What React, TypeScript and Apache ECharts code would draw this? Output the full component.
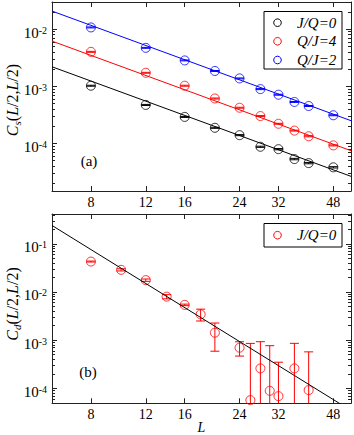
import React, { useEffect, useRef } from "react";
import * as echarts from "echarts";

// ---------- data ----------
const L_TOP = [8, 12, 16, 20, 24, 28, 32, 36, 40, 48];
const CS_JQ0 = [1.02e-3, 4.7e-4, 2.9e-4, 1.87e-4, 1.39e-4, 8.7e-5, 7.9e-5, 5.3e-5, 4.5e-5, 3.8e-5];
const CS_QJ4 = [4.0e-3, 1.72e-3, 1.02e-3, 6.1e-4, 4.2e-4, 3.0e-4, 2.2e-4, 1.67e-4, 1.33e-4, 9.2e-5];
const CS_QJ2 = [1.07e-2, 4.7e-3, 2.83e-3, 1.85e-3, 1.37e-3, 8.9e-4, 7.1e-4, 5.3e-4, 4.5e-4, 3.1e-4];
const ERR_JQ0 = [2e-5, 1e-5, 6e-6, 4e-6, 3e-6, 2e-6, 2e-6, 1.5e-6, 1.2e-6, 1e-6];
const ERR_QJ4 = [8e-5, 3e-5, 2e-5, 1.2e-5, 8e-6, 6e-6, 4e-6, 3e-6, 3e-6, 2e-6];
const ERR_QJ2 = [2e-4, 9e-5, 5e-5, 3.5e-5, 2.5e-5, 1.8e-5, 1.4e-5, 1e-5, 9e-6, 6e-6];

const L_BOT = [8, 10, 12, 14, 16, 18, 20, 24, 26, 28, 30, 32, 36, 40];
const CD_JQ0 = [0.0428, 0.0288, 0.0176, 0.008, 0.0054, 0.00345, 0.00143, 6.98e-4, 5.7e-5, 2.6e-4, 8.9e-5, 6.9e-5, 2.6e-4, 9.2e-5];
const ERR_CD = [0.001, 0.0015, 0.001, 0.0008, 0.0002, 0.00095, 0.00084, 0.00023, 0.0008, 0.00067, 0.00068, 0.00028, 0.0006, 0.00048];

const FIT_L = [6, 54.7];
const FIT_CS_JQ0 = [2.19e-3, 2.64e-5];
const FIT_CS_QJ4 = [6.17e-3, 7.42e-5];
const FIT_CS_QJ2 = [2.07e-2, 2.49e-4];
const FIT_CD = [0.24, 3.47e-5];

const X_TICKS = [8, 12, 16, 24, 32, 48];
const Y_TICKS_TOP = [1e-4, 1e-3, 1e-2];
const Y_TICKS_BOT = [1e-4, 1e-3, 1e-2, 1e-1];
const X_RANGE = [6, 54.7];
const Y_RANGE_TOP = [1.462e-5, 2.985e-2];
const Y_RANGE_BOT = [4.9e-5, 0.415];

const LEGEND_TOP = ["J/Q=0", "Q/J=4", "Q/J=2"];
const LEGEND_BOT = ["J/Q=0"];
const COLORS_TOP = ["#000000", "#ff0000", "#0000ff"];
const COLOR_BOT = "#ff0000";

// ---------- helpers ----------
const lg = (v: number) => Math.log10(v);
const FONT = "Liberation Serif";
const AXIS_COLOR = "#222";

function minorTicks(range: number[]) {
  const lo = lg(range[0]);
  const hi = lg(range[1]);
  const out: number[] = [];
  for (let n = Math.floor(lo); n <= Math.ceil(hi); n++) {
    for (let k = 2; k <= 9; k++) {
      const v = n + Math.log10(k);
      if (v > lo && v < hi) out.push(v);
    }
  }
  return out;
}

function xAxes(grid: number, withLabel: boolean) {
  const ticks = X_TICKS.map(lg);
  const base: any = {
    type: "value",
    gridIndex: grid,
    min: lg(X_RANGE[0]),
    max: lg(X_RANGE[1]),
    splitLine: { show: false },
    axisLine: { show: true, onZero: false, lineStyle: { color: AXIS_COLOR, width: 1 } },
    axisTick: { show: true, inside: true, length: 5, customValues: ticks, lineStyle: { color: AXIS_COLOR } },
  };
  return [
    {
      ...base,
      position: "bottom",
      axisLabel: {
        show: withLabel,
        customValues: ticks,
        formatter: (v: number) => String(Math.round(Math.pow(10, v))),
        fontFamily: FONT,
        fontSize: 14,
        color: "#000",
        margin: 4,
      },
    },
    { ...base, position: "top", axisLabel: { show: false } },
  ];
}

function yAxes(grid: number, range: number[], majors: number[]) {
  const ticks = majors.map(lg);
  const minors = minorTicks(range);
  const base: any = {
    type: "value",
    gridIndex: grid,
    min: lg(range[0]),
    max: lg(range[1]),
    splitLine: { show: false },
    axisLine: { show: true, onZero: false, lineStyle: { color: AXIS_COLOR, width: 1 } },
  };
  const majorTick = { show: true, inside: true, length: 5, customValues: ticks, lineStyle: { color: AXIS_COLOR } };
  const minorTick = { show: true, inside: true, length: 3, customValues: minors, lineStyle: { color: AXIS_COLOR } };
  return [
    {
      ...base,
      position: "left",
      axisTick: majorTick,
      axisLabel: {
        show: true,
        customValues: ticks,
        margin: 5,
        padding: [7, 0, 0, 0],
        formatter: (v: number) => `{b|10}{s|${Math.round(v)}}`,
        rich: {
          b: { fontFamily: FONT, fontSize: 15, lineHeight: 15, color: "#000", verticalAlign: "bottom" },
          s: { fontFamily: FONT, fontSize: 10, lineHeight: 10, color: "#000", verticalAlign: "top", padding: [0, 0, 10, 0] },
        },
      },
    },
    { ...base, position: "right", axisTick: majorTick, axisLabel: { show: false } },
    { ...base, position: "left", axisLine: { show: false }, axisTick: minorTick, axisLabel: { show: false } },
    { ...base, position: "right", axisLine: { show: false }, axisTick: minorTick, axisLabel: { show: false } },
  ];
}

function errorSeries(xi: number, yi: number, L: number[], vals: number[], errs: number[], color: string) {
  return {
    type: "custom",
    xAxisIndex: xi,
    yAxisIndex: yi,
    silent: true,
    data: L.map((l, i) => [lg(l), lg(vals[i]), vals[i], errs[i]]),
    renderItem: (params: any, api: any) => {
      const x = api.value(0);
      const v = api.value(2);
      const e = api.value(3);
      const cs = params.coordSys;
      const yTop = cs.y;
      const yBot = cs.y + cs.height;
      const pHi = api.coord([x, lg(v + e)]);
      const px = pHi[0];
      let hiY = pHi[1];
      let capHi = true;
      if (hiY < yTop) { hiY = yTop; capHi = false; }
      const lo = v - e;
      let loY = yBot;
      let capLo = false;
      if (lo > 0) {
        loY = api.coord([x, lg(lo)])[1];
        capLo = true;
        if (loY > yBot) { loY = yBot; capLo = false; }
      }
      const style = { stroke: color, lineWidth: 1, fill: "none" };
      const w = 4.5;
      const children: any[] = [
        { type: "line", shape: { x1: px, y1: hiY, x2: px, y2: loY }, style },
      ];
      if (capHi) children.push({ type: "line", shape: { x1: px - w, y1: hiY, x2: px + w, y2: hiY }, style });
      if (capLo) children.push({ type: "line", shape: { x1: px - w, y1: loY, x2: px + w, y2: loY }, style });
      return { type: "group", children };
    },
  };
}

function scatterSeries(name: string, xi: number, yi: number, L: number[], vals: number[], color: string) {
  return {
    name,
    type: "scatter",
    xAxisIndex: xi,
    yAxisIndex: yi,
    symbol: "circle",
    symbolSize: 9,
    silent: true,
    itemStyle: { color: "transparent", borderColor: color, borderWidth: 1 },
    data: L.map((l, i) => [lg(l), lg(vals[i])]),
  };
}

function fitSeries(xi: number, yi: number, vals: number[], color: string) {
  return {
    type: "line",
    xAxisIndex: xi,
    yAxisIndex: yi,
    showSymbol: false,
    symbol: "none",
    silent: true,
    clip: true,
    lineStyle: { color, width: 1 },
    data: FIT_L.map((l, i) => [lg(l), lg(vals[i])]),
  };
}

function legendGraphic(names: string[], colors: string[], x: number, y: number, h: number, rowY: number[]) {
  const children: any[] = [
    { type: "rect", shape: { x, y, width: 78, height: h }, style: { fill: "#fff", stroke: "#000", lineWidth: 1 } },
  ];
  names.forEach((n, i) => {
    children.push({ type: "circle", shape: { cx: x + 13.5, cy: rowY[i], r: 3.8 }, style: { fill: "none", stroke: colors[i], lineWidth: 1 } });
    children.push({
      type: "text",
      x: x + 33,
      y: rowY[i],
      style: { text: n, fontFamily: FONT, fontStyle: "italic", fontSize: 15, fill: "#000", verticalAlign: "middle", align: "left" },
    });
  });
  return { type: "group", children, z: 100 };
}

function titleGraphic(sub: string, cx: number, cy: number) {
  return {
    type: "text",
    x: cx,
    y: cy,
    rotation: Math.PI / 2,
    z: 100,
    style: {
      text: `{c|C}{s|${sub}}{n|(}{c|L}{n|/2,}{c|L}{n|/2)}`,
      align: "center",
      verticalAlign: "middle",
      rich: {
        c: { fontFamily: FONT, fontStyle: "italic", fontSize: 16, lineHeight: 16, fill: "#000", verticalAlign: "top" },
        n: { fontFamily: FONT, fontSize: 16, lineHeight: 16, fill: "#000", verticalAlign: "top" },
        s: { fontFamily: FONT, fontStyle: "italic", fontSize: 11, lineHeight: 11, fill: "#000", verticalAlign: "top", padding: [7, 0, 0, 0] },
      },
    },
  };
}

export default function App() {
  const ref = useRef<HTMLDivElement>(null);
  useEffect(() => {
    if (!ref.current) return;
    const chart = echarts.init(ref.current, undefined, { renderer: "svg" });
    const option: any = {
      animation: false,
      backgroundColor: "#fff",
      grid: [
        { left: 52, top: 2, width: 299, height: 189, containLabel: false },
        { left: 52, top: 214, width: 299, height: 189.3, containLabel: false },
      ],
      xAxis: [...xAxes(0, true), ...xAxes(1, true)],
      yAxis: [...yAxes(0, Y_RANGE_TOP, Y_TICKS_TOP), ...yAxes(1, Y_RANGE_BOT, Y_TICKS_BOT)],
      series: [
        fitSeries(0, 0, FIT_CS_JQ0, COLORS_TOP[0]),
        fitSeries(0, 0, FIT_CS_QJ4, COLORS_TOP[1]),
        fitSeries(0, 0, FIT_CS_QJ2, COLORS_TOP[2]),
        errorSeries(0, 0, L_TOP, CS_JQ0, ERR_JQ0, COLORS_TOP[0]),
        errorSeries(0, 0, L_TOP, CS_QJ4, ERR_QJ4, COLORS_TOP[1]),
        errorSeries(0, 0, L_TOP, CS_QJ2, ERR_QJ2, COLORS_TOP[2]),
        scatterSeries(LEGEND_TOP[0], 0, 0, L_TOP, CS_JQ0, COLORS_TOP[0]),
        scatterSeries(LEGEND_TOP[1], 0, 0, L_TOP, CS_QJ4, COLORS_TOP[1]),
        scatterSeries(LEGEND_TOP[2], 0, 0, L_TOP, CS_QJ2, COLORS_TOP[2]),
        fitSeries(2, 4, FIT_CD, "#000000"),
        errorSeries(2, 4, L_BOT, CD_JQ0, ERR_CD, COLOR_BOT),
        scatterSeries(LEGEND_BOT[0], 2, 4, L_BOT, CD_JQ0, COLOR_BOT),
      ],
      graphic: [
        legendGraphic(LEGEND_TOP, COLORS_TOP, 264, 11.5, 57.5, [22.7, 41.3, 60]),
        legendGraphic(LEGEND_BOT, [COLOR_BOT], 264, 223.5, 23.5, [235.2]),
        titleGraphic("s", 12, 100),
        titleGraphic("d", 12, 304),
        { type: "text", x: 89, y: 161, z: 100, style: { text: "(a)", fontFamily: FONT, fontSize: 15, fill: "#000", align: "center", verticalAlign: "middle" } },
        { type: "text", x: 88, y: 372, z: 100, style: { text: "(b)", fontFamily: FONT, fontSize: 15, fill: "#000", align: "center", verticalAlign: "middle" } },
        { type: "text", x: 201.5, y: 434, z: 100, style: { text: "L", fontFamily: FONT, fontStyle: "italic", fontSize: 14, lineHeight: 13, fill: "#000", align: "center", verticalAlign: "bottom" } },
      ],
    };
    chart.setOption(option);
    return () => chart.dispose();
  }, []);
  return (
    <div
      ref={ref}
      style={{ position: "fixed", left: 0, top: 0, width: 354, height: 435, background: "#fff" }}
    />
  );
}
